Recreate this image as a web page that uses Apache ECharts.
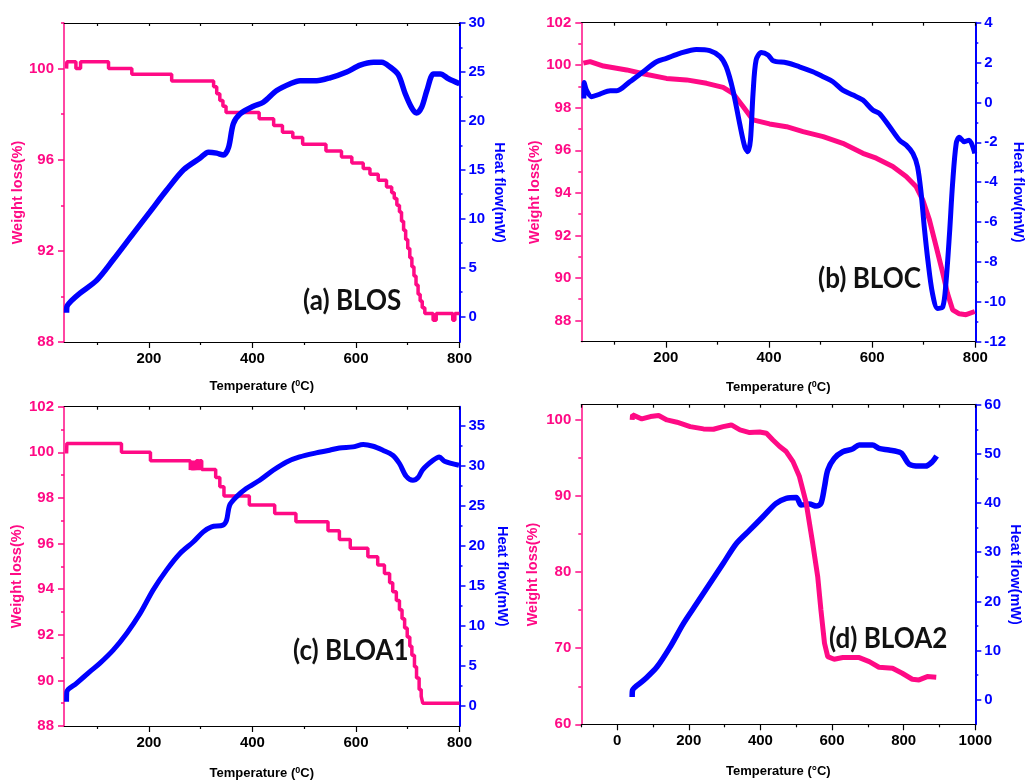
<!DOCTYPE html>
<html><head><meta charset="utf-8">
<script src="https://cdn.jsdelivr.net/npm/echarts@6/dist/echarts.min.js"></script>
<style>html,body{margin:0;padding:0;background:#fff}#c{width:1029px;height:782px}</style>
</head><body><div id="c"></div><script>
// ---------------- DATA ----------------
const panelLabels = ['(a) BLOS', '(b) BLOC', '(c) BLOA1', '(d) BLOA2'];
const weightName = 'Weight loss(%)';
const heatName = 'Heat flow(mW)';

// (a) BLOS  [temperature °C, value]
const blosWeight = [[41,100.0],[41.5,100.3],[59,100.0],[68,100.3],[122,100.0],[167,99.75],[244,99.46],[325,99.2],[331,98.9],[337,98.6],[343,98.35],[349,98.07],[413,97.8],[441,97.5],[458,97.2],[478,96.97],[497,96.68],[542,96.38],[572,96.12],[592,95.86],[614,95.61],[627,95.36],[643,95.1],[659,94.8],[669,94.55],[674,94.3],[679,94.0],[684,93.7],[688,93.3],[692,92.9],[696,92.5],[700,92.1],[704,91.7],[708,91.3],[712,90.9],[716,90.5],[720,90.1],[724,89.8],[728,89.5],[733,89.25],[749,88.96],[755,89.25],[787,88.96],[791,89.25],[800,89.25]];
const blosHeat = [[41,0.4],[41.5,1.0],[50,1.6],[67,2.4],[99,3.7],[131,5.8],[170,8.5],[202,10.7],[234,12.9],[267,15.0],[299,16.2],[315,16.8],[331,16.7],[344,16.5],[354,17.3],[363,19.7],[376,20.7],[402,21.5],[421,21.9],[447,23.1],[473,23.8],[492,24.1],[524,24.1],[550,24.4],[582,25.0],[608,25.7],[634,26.0],[650,26.0],[666,25.5],[682,24.7],[695,22.8],[708,21.3],[717,20.8],[727,21.4],[737,23.1],[750,24.8],[763,24.8],[779,24.3],[800,23.8]];

// (b) BLOC
const blocWeight = [[40,100.1],[53,100.17],[79,99.96],[124,99.78],[156,99.6],[201,99.38],[240,99.31],[279,99.15],[311,98.96],[330,98.68],[350,98.05],[369,97.43],[401,97.24],[434,97.11],[466,96.88],[505,96.64],[543,96.33],[582,95.86],[608,95.63],[640,95.24],[666,94.77],[685,94.3],[698,93.67],[711,92.73],[724,91.48],[737,90.22],[746,89.28],[756,88.5],[769,88.31],[782,88.27],[799,88.42]];
const blocHeat = [[41,0.2],[41.5,1.0],[46,0.62],[56,0.29],[72,0.42],[92,0.59],[105,0.59],[130,1.04],[156,1.54],[182,2.04],[201,2.21],[227,2.46],[259,2.66],[285,2.6],[305,2.3],[317,1.79],[330,0.62],[343,-1.05],[353,-2.22],[359,-2.47],[364,-1.89],[369,0.45],[375,2.13],[385,2.5],[398,2.38],[408,2.09],[434,1.99],[459,1.79],[485,1.54],[505,1.29],[524,1.04],[543,0.62],[563,0.37],[582,0.12],[601,-0.38],[614,-0.55],[634,-1.22],[653,-1.89],[666,-2.14],[679,-2.56],[688,-3.22],[695,-4.56],[701,-6.23],[708,-7.91],[717,-9.58],[727,-10.33],[737,-10.25],[743,-9.08],[750,-6.57],[756,-4.06],[763,-2.05],[769,-1.75],[779,-1.97],[788,-1.89],[799,-2.56]];

// (c) BLOA1
const bloa1Weight = [[41,99.95],[41.5,100.39],[147,100.0],[203,99.63],[280,99.22],[281.5,99.63],[285,99.22],[286.5,99.63],[290,99.22],[292,99.63],[296,99.22],[298,99.63],[302,99.25],[329,98.9],[337,98.49],[345,98.08],[394,97.69],[443,97.32],[484,96.96],[546,96.56],[568,96.18],[589,95.79],[623,95.42],[642,95.06],[655,94.69],[665,94.28],[671,93.89],[678,93.5],[684,93.1],[689,92.7],[694,92.3],[699,91.9],[704,91.5],[708,91.1],[713,90.6],[717,90.1],[722,89.6],[726,89.3],[729,89.0],[800,89.0]];
const bloa1Heat = [[41,0.54],[41.5,1.79],[60,2.83],[86,4.29],[105,5.33],[131,6.99],[157,9.07],[183,11.57],[208,14.48],[234,16.98],[260,19.06],[286,20.52],[305,21.76],[321,22.39],[343,22.6],[350,23.22],[356,25.09],[369,26.13],[388,27.17],[414,28.21],[440,29.46],[466,30.5],[491,31.13],[523,31.63],[549,31.96],[568,32.25],[594,32.38],[614,32.67],[633,32.46],[652,31.96],[671,31.34],[684,30.3],[697,28.71],[710,28.21],[720,28.55],[729,29.55],[749,30.71],[761,31.13],[771,30.59],[799,30.09]];

// (d) BLOA2
const bloa2Weight = [[42,100.0],[43,100.66],[51,100.5],[69,100.13],[93,100.44],[116,100.57],[139,100.0],[167,99.7],[204,99.12],[241,98.82],[269,98.77],[296,99.12],[319,99.34],[343,98.69],[370,98.34],[398,98.42],[417,98.25],[435,97.37],[454,96.5],[472,95.84],[491,94.52],[509,92.55],[528,89.05],[546,83.79],[560,79.41],[569,75.03],[579,70.65],[588,68.9],[606,68.55],[630,68.77],[676,68.77],[704,68.24],[731,67.5],[769,67.37],[796,66.71],[824,65.92],[843,65.83],[866,66.27],[891,66.18]];
const bloa2Heat = [[42,0.54],[43,1.9],[74,3.94],[111,6.65],[148,10.73],[185,15.48],[222,19.55],[259,23.63],[296,27.7],[333,31.77],[370,34.49],[407,37.2],[444,39.92],[472,40.94],[500,41.14],[514,39.58],[537,39.78],[556,39.38],[569,39.92],[579,43.31],[588,46.71],[606,49.08],[630,50.44],[657,50.98],[676,51.8],[713,51.8],[731,51.12],[759,50.78],[792,50.24],[801,49.42],[815,47.93],[843,47.52],[861,47.52],[880,48.4],[892,49.56]];

// tick values
const tempMajor = [200,400,600,800];
const tempMinor = [100,300,500,700];
const tempTop = [100,200,300,400,500,600,700,800];
const tempMajorD = [0,200,400,600,800,1000];
const tempMinorD = [-100,100,300,500,700,900];
const tempTopD = [-100,0,100,200,300,400,500,600,700,800,900,1000];
const blosWMajor = [88,92,96,100], blosWMinor = [90,94,98,102];
const blosHMajor = [0,5,10,15,20,25,30], blosHMinor = [2.5,7.5,12.5,17.5,22.5,27.5];
const blocWMajor = [88,90,92,94,96,98,100,102], blocWMinor = [89,91,93,95,97,99,101];
const blocHMajor = [-12,-10,-8,-6,-4,-2,0,2,4], blocHMinor = [-11,-9,-7,-5,-3,-1,1,3];
const bloa1WMajor = [88,90,92,94,96,98,100,102], bloa1WMinor = [89,91,93,95,97,99,101];
const bloa1HMajor = [0,5,10,15,20,25,30,35], bloa1HMinor = [2.5,7.5,12.5,17.5,22.5,27.5,32.5];
const bloa2WMajor = [60,70,80,90,100], bloa2WMinor = [65,75,85,95];
const bloa2HMajor = [0,10,20,30,40,50,60], bloa2HMinor = [5,15,25,35,45,55];

// ---------------- LAYOUT ----------------
const FONT = "'Liberation Sans', Arial, Helvetica, sans-serif";
const PINK = '#ff0a85';
const BLUE = '#0000ff';

const panels = [
  {box:[64,23,395.5,319], x:[36,800,tempMajor,tempMinor,tempTop], wl:[88,102,blosWMajor,blosWMinor], hr:[-2.6,30,blosHMajor,blosHMinor],
   w:blosWeight, h:blosHeat, step:true, pw:3.5, bw:5.5, sup:'0', xGap:37, lGap:37, rGap:32, label:[303,301], blueTop:true},
  {box:[581.3,22.7,394,319], x:[36,800,tempMajor,tempMinor,tempTop], wl:[87,102,blocWMajor,blocWMinor], hr:[-12,4,blocHMajor,blocHMinor],
   w:blocWeight, h:blocHeat, step:false, pw:5, bw:5, sup:'0', xGap:38, lGap:36, rGap:35, label:[818,279], blueTop:true},
  {box:[64,406.7,395.5,319.3], x:[36,800,tempMajor,tempMinor,tempTop], wl:[88,102,bloa1WMajor,bloa1WMinor], hr:[-2.5,37.4,bloa1HMajor,bloa1HMinor],
   w:bloa1Weight, h:bloa1Heat, step:true, pw:3.5, bw:5, sup:'0', xGap:40, lGap:40, rGap:35, label:[293,651], blueTop:true},
  {box:[581.3,404.7,394,319.6], x:[-100,1000,tempMajorD,tempMinorD,tempTopD], wl:[60,102,bloa2WMajor,bloa2WMinor], hr:[-5,60,bloa2HMajor,bloa2HMinor],
   w:bloa2Weight, h:bloa2Heat, step:false, pw:5, bw:5.5, sup:'°', xGap:40, lGap:41, rGap:32, label:[829,639], blueTop:false}
];

const grids = [], xAxes = [], yAxes = [], series = [], graphics = [];
const plain = (v) => String(v);
const lblStyle = (color) => ({color, fontSize:15, fontWeight:'bold', fontFamily:FONT, formatter:plain});

panels.forEach((p, i) => {
  const g = grids.length;
  grids.push({left:p.box[0], top:p.box[1], width:p.box[2], height:p.box[3], containLabel:false});
  const [xmin, xmax, xmaj, xmin2, xtop] = p.x;
  const xi = xAxes.length;
  const supStyle = p.sup === '0'
    ? {fontSize:9, fontWeight:'bold', fontFamily:FONT, color:'#000', verticalAlign:'top', lineHeight:9}
    : {fontSize:13, fontWeight:'bold', fontFamily:FONT, color:'#000', lineHeight:15};
  xAxes.push({gridIndex:g, type:'value', position:'bottom', min:xmin, max:xmax,
    axisLine:{show:true, onZero:false, lineStyle:{color:'#000', width:1.2}},
    axisTick:{show:true, customValues:xmaj, length:6, lineStyle:{color:'#000', width:1.2}},
    axisLabel:Object.assign({customValues:xmaj, margin:9}, lblStyle('#000')),
    splitLine:{show:false},
    name:'{b|Temperature (}{s|' + p.sup + '}{b|C)}', nameLocation:'middle', nameGap:p.xGap,
    nameTextStyle:{rich:{b:{fontSize:13, fontWeight:'bold', fontFamily:FONT, color:'#000', lineHeight:15}, s:supStyle}}});
  xAxes.push({gridIndex:g, type:'value', position:'bottom', min:xmin, max:xmax,
    axisLine:{show:false, onZero:false}, axisTick:{show:true, customValues:xmin2, length:3, lineStyle:{color:'#000', width:1.2}},
    axisLabel:{show:false}, splitLine:{show:false}});
  xAxes.push({gridIndex:g, type:'value', position:'top', min:xmin, max:xmax,
    axisLine:{show:true, onZero:false, lineStyle:{color:'#000', width:1.2}},
    axisTick:{show:true, inside:true, customValues:xtop, length:3, lineStyle:{color:'#000', width:1.2}},
    axisLabel:{show:false}, splitLine:{show:false}});

  const [lmin, lmax, lmaj, lmi] = p.wl;
  const yl = yAxes.length;
  yAxes.push({gridIndex:g, type:'value', position:'left', min:lmin, max:lmax,
    axisLine:{show:true, onZero:false, lineStyle:{color:PINK, width:1.5}},
    axisTick:{show:true, customValues:lmaj, length:6, lineStyle:{color:PINK, width:1.5}},
    axisLabel:Object.assign({customValues:lmaj, margin:10}, lblStyle(PINK)),
    splitLine:{show:false},
    name:weightName, nameLocation:'middle', nameRotate:90, nameGap:p.lGap,
    nameTextStyle:{color:PINK, fontSize:14.5, fontWeight:'bold', fontFamily:FONT, padding:[0,20,0,0]}});
  yAxes.push({gridIndex:g, type:'value', position:'left', min:lmin, max:lmax,
    axisLine:{show:false, onZero:false}, axisTick:{show:true, customValues:lmi, length:3, lineStyle:{color:PINK, width:1.5}},
    axisLabel:{show:false}, splitLine:{show:false}});

  const [rmin, rmax, rmaj, rmi] = p.hr;
  const yr = yAxes.length;
  yAxes.push({gridIndex:g, type:'value', position:'right', min:rmin, max:rmax,
    axisLine:{show:true, onZero:false, lineStyle:{color:BLUE, width:2}},
    axisTick:{show:true, customValues:rmaj, length:6, lineStyle:{color:BLUE, width:1.5}},
    axisLabel:Object.assign({customValues:rmaj, margin:9}, lblStyle(BLUE)),
    splitLine:{show:false},
    name:heatName, nameLocation:'middle', nameRotate:-90, nameGap:p.rGap,
    nameTextStyle:{color:BLUE, fontSize:14.5, fontWeight:'bold', fontFamily:FONT, padding:[0,0,0,20]}});
  yAxes.push({gridIndex:g, type:'value', position:'right', min:rmin, max:rmax,
    axisLine:{show:false, onZero:false}, axisTick:{show:true, customValues:rmi, length:3, lineStyle:{color:BLUE, width:1.5}},
    axisLabel:{show:false}, splitLine:{show:false}});

  const pinkSeries = {type:'line', xAxisIndex:xi, yAxisIndex:yl, data:p.w, showSymbol:false, step:p.step ? 'end' : false,
    lineStyle:{color:PINK, width:p.pw}, itemStyle:{color:PINK}, z:p.blueTop ? 2 : 3, silent:true};
  const blueSeries = {type:'line', xAxisIndex:xi, yAxisIndex:yr, data:p.h, showSymbol:false, smooth:0.3,
    lineStyle:{color:BLUE, width:p.bw}, itemStyle:{color:BLUE}, z:p.blueTop ? 3 : 2, silent:true};
  series.push(pinkSeries, blueSeries);

  graphics.push({type:'text', x:p.label[0], y:p.label[1], z:10, scaleX:0.93,
    style:{text:panelLabels[i], fontFamily:"Lato, 'Open Sans', sans-serif", fontWeight:'bold', fontSize:28, fill:'#111',
      align:'left', verticalAlign:'middle'}});
});

const chart = echarts.init(document.getElementById('c'), null, {renderer:'canvas'});
chart.setOption({
  backgroundColor:'#fff',
  animation:false,
  grid:grids, xAxis:xAxes, yAxis:yAxes, series:series, graphic:graphics
});
</script></body></html>
